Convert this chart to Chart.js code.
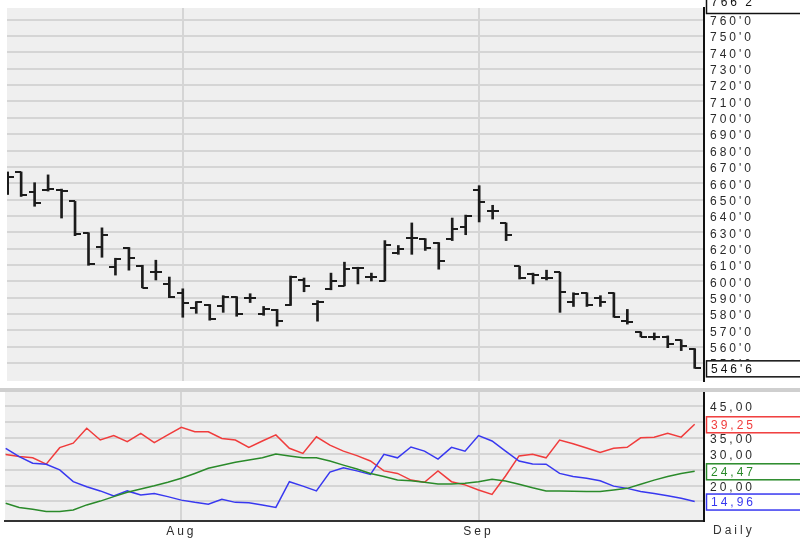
<!DOCTYPE html>
<html><head><meta charset="utf-8">
<script src="https://cdn.jsdelivr.net/npm/chart.js@4.4.0/dist/chart.umd.min.js"></script>
<style>
html,body{margin:0;padding:0;background:#fff;width:800px;height:538px;overflow:hidden;}
#top{position:absolute;left:0;top:0;}
#bot{position:absolute;left:0;top:392px;}
#sep{position:absolute;left:0;top:388px;width:800px;height:4px;background:#cfcfcf;}
#daily{position:absolute;left:713px;top:523px;font:12px "Liberation Sans",Arial,sans-serif;letter-spacing:3px;color:#333;}
</style></head><body>
<canvas id="top" width="800" height="388"></canvas>
<div id="sep"></div>
<canvas id="bot" width="800" height="146"></canvas>
<div id="daily">Daily</div>
<script>
// ---- data ----
const dates = [
 "2010-07-14","2010-07-15","2010-07-16","2010-07-19","2010-07-20","2010-07-21","2010-07-22","2010-07-23","2010-07-26","2010-07-27","2010-07-28","2010-07-29","2010-07-30",
 "2010-08-02","2010-08-03","2010-08-04","2010-08-05","2010-08-06","2010-08-09","2010-08-10","2010-08-11","2010-08-12","2010-08-13","2010-08-16","2010-08-17","2010-08-18","2010-08-19","2010-08-20","2010-08-23","2010-08-24","2010-08-25","2010-08-26","2010-08-27","2010-08-30","2010-08-31",
 "2010-09-01","2010-09-02","2010-09-03","2010-09-07","2010-09-08","2010-09-09","2010-09-10","2010-09-13","2010-09-14","2010-09-15","2010-09-16","2010-09-17","2010-09-20","2010-09-21","2010-09-22","2010-09-23","2010-09-24"
];
const openP = [666.3,666.9,654.9,655.8,656.1,648.9,629.7,620.7,608.6,620.1,609.2,605.6,598.4,593.0,583.4,585.8,584.6,590.6,590.0,579.8,582.2,585.2,600.8,586.4,595.4,597.2,608.0,602.6,600.2,617.1,626.7,626.1,623.7,626.1,633.3,656.1,642.9,635.7,609.2,604.4,602.0,605.6,587.6,593.0,590.0,593.0,575.6,569.0,566.0,566.0,564.2,558.8];
const highP = [666.9,666.9,660.3,665.1,656.4,648.9,629.7,632.7,614.1,620.7,609.8,612.9,602.6,595.4,587.6,585.8,591.2,590.6,592.4,584.6,582.8,603.2,602.0,588.2,605.0,611.7,608.6,605.0,624.9,621.9,635.7,626.1,623.7,638.7,640.5,658.5,646.5,635.7,609.2,605.0,606.8,605.6,593.0,593.0,591.2,593.0,582.8,569.0,568.4,566.6,564.2,558.8];
const lowP  = [653.1,651.9,645.9,655.2,638.7,627.9,609.8,614.7,603.8,606.8,596.0,600.8,590.0,578.0,580.4,576.2,581.0,578.6,587.0,579.2,572.6,585.2,593.6,575.6,594.8,597.2,598.4,600.2,600.2,616.5,616.5,618.9,607.4,624.9,628.5,636.3,638.1,624.9,601.4,598.4,600.8,581.0,584.6,584.6,584.6,578.0,573.8,566.0,564.2,559.4,557.6,546.75];
const closeP= [663.9,652.5,647.7,656.4,655.5,629.1,610.5,628.5,613.5,614.1,596.0,605.6,590.6,587.0,587.6,576.8,590.6,579.8,590.0,582.8,575.6,602.6,597.2,587.6,600.2,607.4,608.0,602.6,622.5,619.5,626.7,620.1,612.3,632.1,639.9,648.3,642.9,628.5,602.0,603.8,602.0,593.6,592.4,585.2,587.6,578.0,575.0,566.0,566.0,561.8,560.6,546.75];
const diMinus = [29.75,29.1,28.7,26.7,31.9,33.3,38.0,34.3,35.7,33.8,36.4,33.5,35.9,38.3,36.9,36.9,34.8,34.3,32.0,34.0,35.9,31.7,30.1,35.3,32.7,30.8,29.4,27.7,24.6,23.8,21.7,21.0,24.6,21.2,20.2,18.6,17.2,23.0,29.3,29.8,28.7,34.3,33.1,31.8,30.4,31.7,32.0,35.0,35.2,36.4,35.2,39.25];
const diPlus  = [31.7,29.1,27.0,26.7,24.9,21.2,19.6,18.3,16.7,18.3,17.0,17.5,16.5,15.4,14.7,14.1,15.7,14.7,14.6,13.9,13.1,21.2,19.8,18.3,24.2,25.6,24.6,23.5,29.8,28.7,32.1,30.8,28.3,32.0,30.8,35.7,34.0,30.8,27.7,26.8,26.7,23.8,22.8,22.3,21.5,19.8,19.1,18.1,17.5,16.8,16.0,14.96];
const adx     = [14.4,13.1,12.5,11.8,11.8,12.3,13.9,15.1,16.5,17.9,18.9,19.9,21.0,22.3,23.8,25.4,26.4,27.3,28.0,28.7,29.9,29.3,28.7,28.7,27.7,26.4,25.2,23.8,22.8,21.7,21.5,21.0,20.5,20.5,20.7,21.2,22.0,21.4,20.4,19.3,18.3,18.3,18.2,18.1,18.1,18.6,19.1,20.4,21.7,22.8,23.8,24.47];
const priceTicks = [760,750,740,730,720,710,700,690,680,670,660,650,640,630,620,610,600,590,580,570,560,550];
const indTicks = [45,40,35,30,25,20,15];
const monthNames = ["Jan","Feb","Mar","Apr","May","Jun","Jul","Aug","Sep","Oct","Nov","Dec"];
const topMarker = 766.25;

// ---- helpers ----
const FONT = '"Liberation Sans", Arial, sans-serif';
const monthIdx = [];
dates.forEach((d,i)=>{ if(i>0 && d.slice(5,7)!==dates[i-1].slice(5,7)) monthIdx.push(i); });
const monthLabel = v => { const i=Math.round(v); return monthNames[parseInt(dates[i].slice(5,7),10)-1]; };
const fmtPrice = v => { const f=Math.floor(v+1e-9); return f+"'"+Math.round((v-f)*8); };
const fmtInd = v => v.toFixed(2).replace('.',',');
const XMIN=-0.05, XMAX=51.69;

function tickImg(side){
  const c=document.createElement('canvas'); c.width=12; c.height=2;
  const g=c.getContext('2d'); g.fillStyle='#1c1c1c';
  g.fillRect(side==='left'?0:6,0,6,2); return c;
}
const bgPlugin = {
  id:'bg',
  beforeDraw(chart){
    const {ctx,chartArea:a}=chart;
    ctx.letterSpacing='3px';
    ctx.save(); ctx.fillStyle='#efefef'; ctx.fillRect(a.left,a.top,a.right-a.left,a.bottom-a.top); ctx.restore();
  }
};
function drawBox(ctx,y,text,color,dy){
  ctx.save();
  ctx.letterSpacing='3px';
  ctx.fillStyle='#fff'; ctx.fillRect(706,y-8,94,17);
  ctx.strokeStyle=color; ctx.lineWidth=1.5; ctx.strokeRect(706.5,y-7.5,100,16);
  ctx.fillStyle=color; ctx.font='12px '+FONT; ctx.textBaseline='middle'; ctx.textAlign='left';
  ctx.fillText(text,711,y+1+(dy||0));
  ctx.restore();
}
const noPadY = s=>{ s.width=96; s.paddingTop=0; s.paddingBottom=0; };

const idx = dates.map((d,i)=>i);
const gridCol = '#d5d5d5';

// ---- price chart ----
new Chart(document.getElementById('top'), {
  type:'bar',
  data:{ datasets:[
    { type:'bar', data: idx.map(i=>({x:i,y:[lowP[i],highP[i]]})), backgroundColor:'#1c1c1c', barThickness:2, borderWidth:0, grouped:false },
    { type:'scatter', data: idx.map(i=>({x:i,y:openP[i]})), pointStyle: tickImg('left'), pointRadius:6 },
    { type:'scatter', data: idx.map(i=>({x:i,y:closeP[i]})), pointStyle: tickImg('right'), pointRadius:6 }
  ]},
  options:{
    responsive:false, animation:false, events:[],
    layout:{padding:{top:8,left:5,right:0,bottom:0}},
    plugins:{legend:{display:false},tooltip:{enabled:false}},
    scales:{
      x:{ type:'linear', offset:false, min:XMIN, max:XMAX, afterFit:s=>{s.height=0;s.paddingLeft=0;s.paddingRight=0;},
          afterBuildTicks:s=>{s.ticks=monthIdx.map(v=>({value:v}));},
          ticks:{display:false}, grid:{offset:false,color:gridCol,lineWidth:2,drawTicks:false}, border:{display:false} },
      y:{ position:'right', min:539, max:767.2, afterFit:noPadY,
          afterBuildTicks:s=>{s.ticks=priceTicks.map(v=>({value:v}));},
          grid:{color:gridCol,lineWidth:2,drawTicks:false},
          border:{display:true,color:'#111',width:2},
          ticks:{padding:6,labelOffset:2,color:'#2a2a2a',font:{family:FONT,size:12},autoSkip:false,callback:v=>fmtPrice(v)} }
    }
  },
  plugins:[bgPlugin,{id:'boxes',afterDraw(chart){
    const y=chart.scales.y; const ctx=chart.ctx;
    drawBox(ctx, y.getPixelForValue(closeP[closeP.length-1]), fmtPrice(closeP[closeP.length-1]), '#111');
    drawBox(ctx, chart.chartArea.top-3, fmtPrice(topMarker), '#111', -3);
  }}]
});

// ---- indicator chart ----
const lineDs = (arr,col)=>({ type:'line', data: idx.map(i=>({x:i,y:arr[i]})), borderColor:col, borderWidth:1.5, pointRadius:0, tension:0, fill:false });
new Chart(document.getElementById('bot'), {
  type:'line',
  data:{ datasets:[ lineDs(adx,'#2a8a2a'), lineDs(diPlus,'#3838f0'), lineDs(diMinus,'#f03c3c') ]},
  options:{
    responsive:false, animation:false, events:[],
    layout:{padding:{top:0,left:5,right:0,bottom:0}},
    plugins:{legend:{display:false},tooltip:{enabled:false}},
    scales:{
      x:{ type:'linear', offset:false, min:XMIN, max:XMAX, afterFit:s=>{s.height=17;s.paddingLeft=0;s.paddingRight=0;},
          afterBuildTicks:s=>{s.ticks=monthIdx.map(v=>({value:v}));},
          ticks:{padding:3,color:'#2a2a2a',font:{family:FONT,size:12},maxRotation:0,autoSkip:false,callback:v=>monthLabel(v)},
          grid:{offset:false,color:gridCol,lineWidth:2,drawTicks:false}, border:{display:true,color:'#333',width:2} },
      y:{ position:'right', min:8.84, max:49.4, afterFit:noPadY,
          afterBuildTicks:s=>{s.ticks=indTicks.map(v=>({value:v}));},
          grid:{color:gridCol,lineWidth:2,drawTicks:false},
          border:{display:true,color:'#111',width:2},
          ticks:{padding:6,labelOffset:2,color:'#2a2a2a',font:{family:FONT,size:12},autoSkip:false,callback:v=>fmtInd(v)} }
    }
  },
  plugins:[bgPlugin,{id:'boxes',afterDraw(chart){
    const y=chart.scales.y; const ctx=chart.ctx; const n=dates.length-1;
    drawBox(ctx, y.getPixelForValue(diMinus[n]), fmtInd(diMinus[n]), '#f03c3c');
    drawBox(ctx, y.getPixelForValue(adx[n]), fmtInd(adx[n]), '#2a8a2a');
    drawBox(ctx, y.getPixelForValue(diPlus[n]), fmtInd(diPlus[n]), '#3838f0');
  }}]
});
</script>
</body></html>
